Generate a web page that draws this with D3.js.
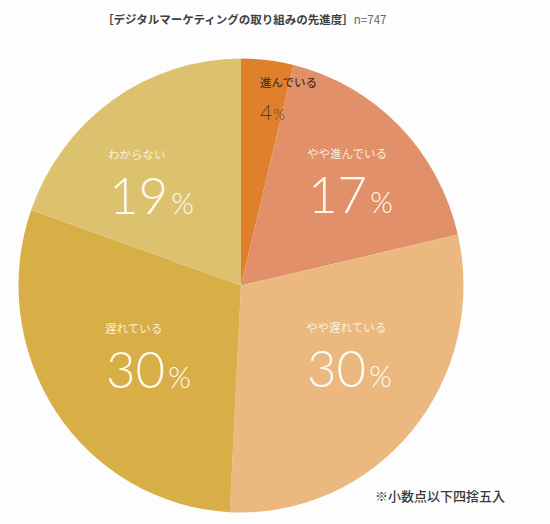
<!DOCTYPE html>
<html><head><meta charset="utf-8">
<script src="https://cdn.jsdelivr.net/npm/d3@7"></script>
<style>
html,body{margin:0;padding:0;background:#fdfdfd;}
svg{display:block;}
</style></head>
<body>
<svg id="chart" width="550" height="524"></svg>
<script>
// data
const categories = ["進んでいる","やや進んでいる","やや遅れている","遅れている","わからない"];
const values = [3.8, 17.6, 29.4, 29.6, 19.6];          // arc shares
const percentLabels = ["4", "17", "30", "30", "19"];     // printed labels
const colors = ["#E07F2C","#E2906A","#EBB97F","#D8AE47","#DCC16E"];
const title = "［デジタルマーケティングの取り組みの先進度］";
const sampleNote = "n=747";
const footnote = "※小数点以下四捨五入";

// layout
const cx = 241, cy = 285.5, R = 222.5, yStretch = 1.02;
// label anchor points (left edge, number baseline) per slice
const labelPos = [[260,120],[308,213],[307,387],[106,388],[109,214]];

const svg = d3.select("#chart");
const cjk = "'Noto Sans CJK JP','Noto Sans CJK SC',sans-serif";
const light = "Lato, Roboto, 'Open Sans', sans-serif";

const pie = d3.pie().sort(null).value(d => d)(values);
const arc = d3.arc().innerRadius(0).outerRadius(R);

const g = svg.append("g").attr("transform", `translate(${cx},${cy}) scale(1,${yStretch})`);
g.selectAll("path").data(pie).join("path")
  .attr("d", arc)
  .attr("fill", (d,i) => colors[i]);

// labels
categories.forEach((c,i) => {
  const [x,y] = labelPos[i];
  const small = i === 0;
  const dark = i === 0;
  svg.append("text")
    .attr("x", x + (small ? 0 : -1)).attr("y", small ? y - 33 : y - 55)
    .attr("font-family", cjk).attr("font-size", 11.5)
    .attr("font-weight", dark ? 500 : 400)
    .attr("fill", dark ? "#4a3524" : "#fff7e6")
    .attr("fill-opacity", dark ? 1 : 0.9)
    .text(c);
  const t = svg.append("text")
    .attr("x", x).attr("y", y)
    .attr("font-family", light).attr("font-weight", 300)
    .attr("fill", dark ? "#5e3c22" : "#fffaf0");
  t.append("tspan").attr("font-size", small ? 21 : 51).text(percentLabels[i]);
  t.append("tspan").attr("font-size", small ? 15 : 29).attr("dx", small ? 1 : 3).text("%");
});

// title
const tt = svg.append("text").attr("x", 102).attr("y", 24)
  .attr("font-family", cjk).attr("fill", "#3f3f3f");
tt.append("tspan").attr("font-size", 11.5).attr("font-weight", 700).text(title);
tt.append("tspan").attr("font-size", 11.5).attr("font-weight", 400).attr("fill", "#666").text(sampleNote);

// footnote
svg.append("text").attr("x", 375).attr("y", 501)
  .attr("font-family", cjk).attr("font-size", 13).attr("font-weight", 500)
  .attr("fill", "#3a3a3a").text(footnote);
</script>
</body></html>
